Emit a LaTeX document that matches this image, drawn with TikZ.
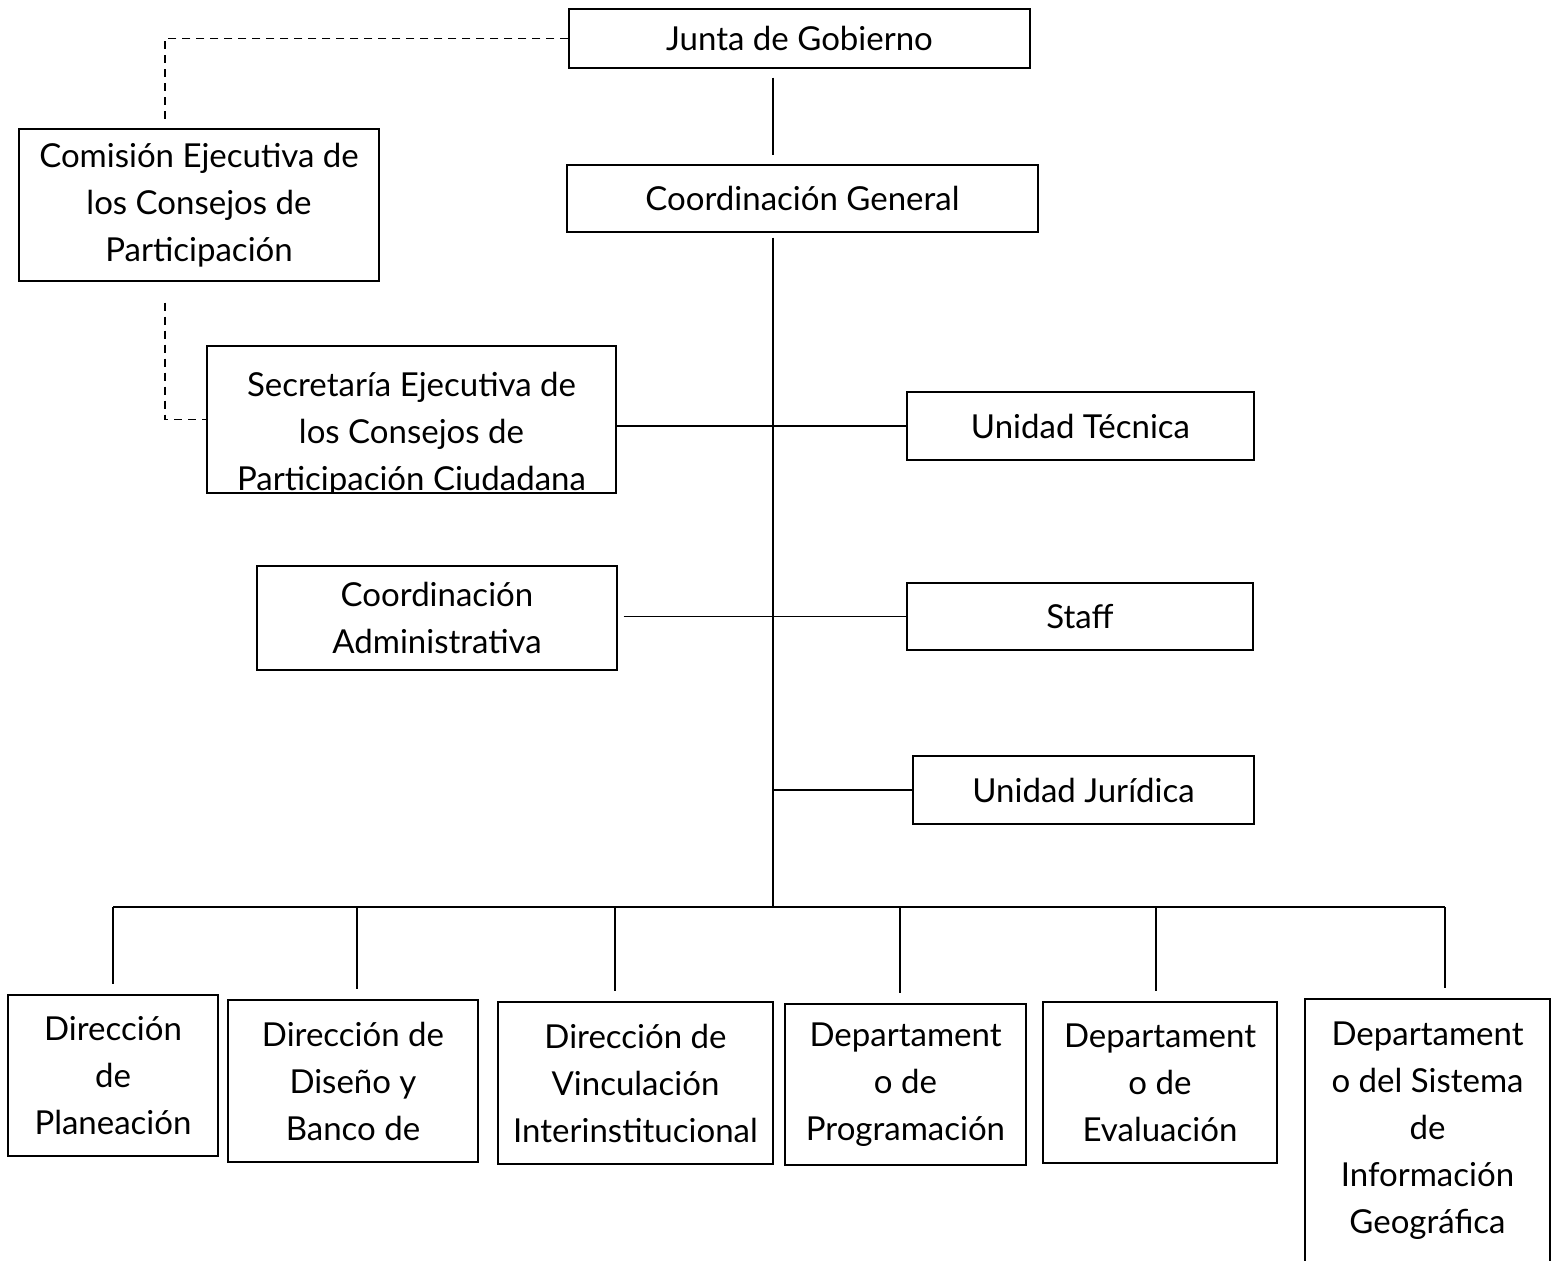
\documentclass[tikz,border=0pt]{standalone}
\usepackage{fontspec}
\setmainfont{Lato}
\tikzset{
	box/.style={draw,rectangle,align=center,inner sep=0pt,font=\fontsize{16.5}{23.5}\selectfont},
	wh/.style 2 args={minimum width=#1*0.5pt,minimum height=#2*0.5pt},
	txt/.style={align=center,inner sep=0pt,font=\fontsize{16.5}{23.5}\selectfont},
	dashlink/.style={dash pattern=on 4pt off 3pt}
}

\begin{document}
\begin{tikzpicture}[x=0.5pt,y=-0.5pt,line width=0.6pt]
			\useasboundingbox (0,0) rectangle (1559,1260);
			\clip (0,0) rectangle (1559,1260);
			
			\node[box,wh={461}{59}] (junta) at (799.5,38.5) {Junta de Gobierno};
			\node[box,wh={471}{67}] (coordgen) at (802.5,198.5) {Coordinación General};
			\node[box,wh={360}{152}] (comision) at (199,205) {Comisión Ejecutiva de\\los Consejos de\\Participación};
			\begin{scope}
				\clip (207,346) rectangle (616,493);
				\node[txt] (secretxt) at (411.5,434) {Secretaría Ejecutiva de\\los Consejos de\\Participación Ciudadana};
			\end{scope}
			\node[box,wh={409}{147}] (secre) at (411.5,419.5) {};
			\node[box,wh={347}{68}] (unitec) at (1080.5,426) {Unidad Técnica};
			\node[box,wh={360}{104}] (coordadm) at (437,618) {Coordinación\\Administrativa};
			\node[box,wh={346}{67}] (staff) at (1080,616.5) {Staff};
			\node[box,wh={341}{68}] (unijur) at (1083.5,790) {Unidad Jurídica};
			
			\node[box,wh={210}{161}] (dplan) at (113,1075.5) {Dirección\\de\\Planeación};
			\node[box,wh={250}{162}] (ddis) at (353,1081) {Dirección de\\Diseño y\\Banco de};
			\node[box,wh={275}{162}] (dvin) at (635.5,1083) {Dirección de\\Vinculación\\Interinstitucional};
			\node[box,wh={241}{161}] (dprog) at (905.5,1084.5) {Departament\\o de\\Programación};
			\node[box,wh={234}{161}] (deval) at (1160,1082.5) {Departament\\o de\\Evaluación};
			\node[box,wh={245}{263}] (dsig) at (1427.5,1130.5) {Departament\\o del Sistema\\de\\Información\\Geográfica};
			
			\coordinate (bus) at (773,907);
			\coordinate (dsh) at (165,0);
			
			\draw[shorten <=4.5pt,shorten >=4.5pt] (junta.south -| bus) -- (coordgen.north -| bus);
			\draw[shorten <=2.5pt] (coordgen.south -| bus) -- (bus);
			\draw (secre.east |- unitec.west) -- (unitec.west);
			\draw[shorten <=3pt] (coordadm.east |- staff.west) -- (staff.west);
			\draw (unijur.west -| bus) -- (unijur.west);
			
			\foreach \n/\x in {dplan/113,ddis/357,dvin/615,dprog/900,deval/1156,dsig/1445}{
				\coordinate (t\n) at (\x,907);
				\draw[shorten >=5pt] (t\n) -- (t\n |- \n.north);
			}
			\draw (tdplan) -- (tdsig);
			
			\draw[dashlink,shorten >=3pt] (junta.west) -| (comision.north -| dsh);
			\draw[dashlink,shorten <=10.5pt] (comision.south -| dsh) |- (secre.west);
		\end{tikzpicture}
\end{document}
